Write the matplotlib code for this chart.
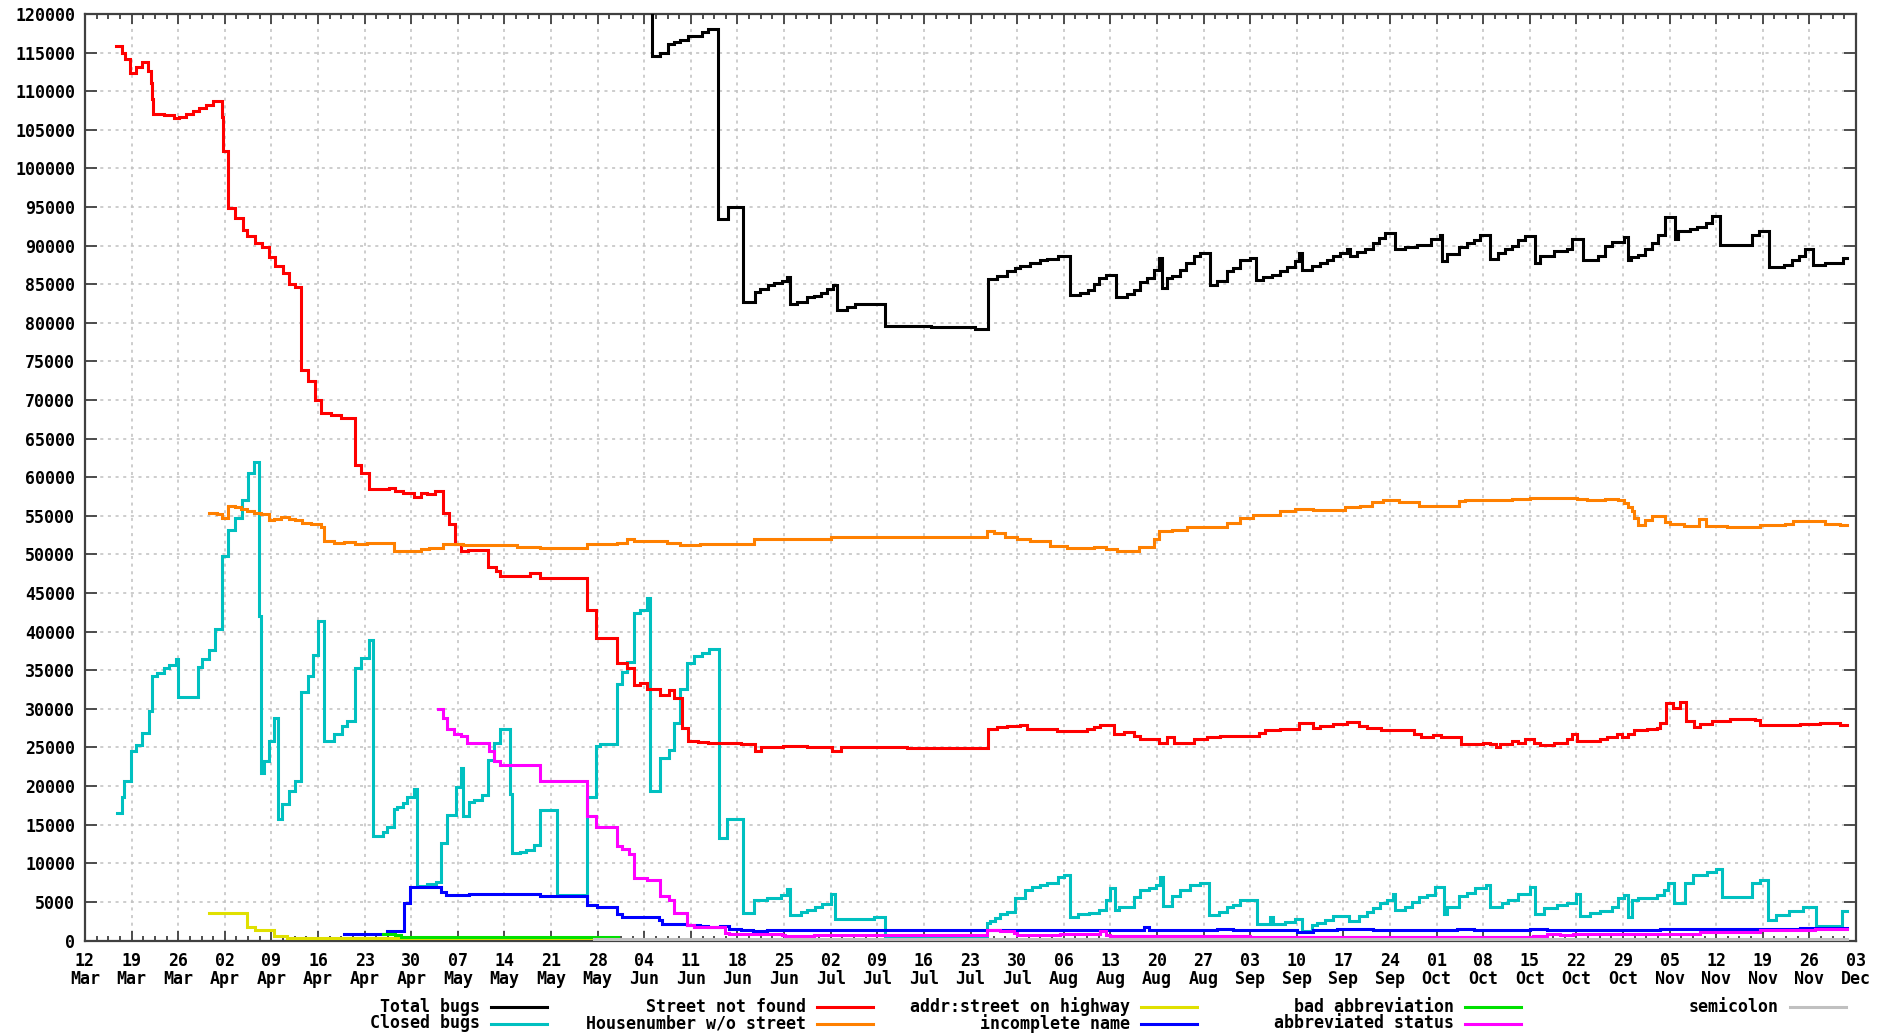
import numpy as np
import matplotlib
matplotlib.use("Agg")
import matplotlib.pyplot as plt
import matplotlib.dates as mdates
from matplotlib.lines import Line2D
from datetime import datetime

# ---------------- data (x = days since 12 Mar, values = bug counts) ----------------
start_date = datetime(2012, 3, 12)
end_day = 264.7

total_day = [84.8, 85.1, 86.4, 87.6, 88.4, 89.4, 90.5, 92.6, 93.6, 95.1, 96.6, 98.9, 100.6, 101.4, 102.6,
             103.5, 104.7, 105.5, 105.9, 107.0, 108.5, 109.5, 110.5, 111.5, 112.3, 112.9, 114.5, 115.7,
             120.1, 127.0, 133.7, 135.6, 137.0, 138.5, 139.7, 140.5, 142.0, 143.5, 144.5, 146.2, 147.9,
             149.5, 150.7, 151.5, 152.3, 153.3, 154.8, 156.5, 157.5, 158.5, 159.5, 160.5, 161.3, 161.8,
             162.5, 163.3, 164.5, 165.4, 166.5, 167.5, 168.9, 170.0, 171.5, 172.5, 173.5, 175.0, 175.9,
             177.0, 178.3, 179.5, 180.5, 181.8, 182.4, 182.8, 184.3, 185.5, 186.5, 187.5, 188.5, 189.5,
             190.0, 191.0, 192.3, 193.5, 194.4, 195.3, 196.8, 198.3, 200.1, 202.1, 203.5, 203.8, 204.6,
             206.3, 207.5, 208.6, 209.5, 211.0, 212.3, 213.3, 214.3, 215.3, 216.3, 217.8, 218.5, 220.6,
             222.6, 223.3, 225.0, 227.3, 228.3, 229.3, 231.1, 231.8, 232.2, 233.3, 234.3, 235.3, 236.3,
             237.3, 238.8, 239.3, 241.1, 242.1, 243.4, 244.4, 245.6, 250.4, 251.4, 252.9, 255.2, 256.4,
             257.4, 258.4, 259.6, 261.4, 264.1]
total_val = [130000, 114600, 115000, 116100, 116400, 116600, 117100, 117700, 118100, 93500, 95000, 82700,
             84000, 84400, 84900, 85200, 85400, 85900, 82500, 82700, 83300, 83500, 83800, 84400, 84900,
             81600, 82100, 82400, 79600, 79400, 79200, 85700, 86100, 86700, 87100, 87400, 87700, 88100,
             88300, 88700, 83600, 83800, 84200, 85000, 85800, 86200, 83400, 83700, 84300, 85300, 85800,
             86800, 88400, 84500, 85800, 86100, 86900, 87700, 88600, 89000, 84900, 85400, 86700, 87100,
             88100, 88400, 85600, 85900, 86200, 86700, 87200, 88000, 89000, 86900, 87300, 87800, 88200,
             88600, 89000, 89500, 88600, 89200, 89600, 90400, 91000, 91600, 89500, 89800, 90100, 90900,
             91400, 88000, 88900, 89800, 90400, 90700, 91400, 88300, 89100, 89500, 90000, 90700, 91200,
             87800, 88600, 89300, 89600, 90900, 88200, 88600, 89900, 90500, 91100, 88200, 88500, 88800,
             89500, 90300, 91400, 93700, 90800, 91900, 92100, 92400, 92900, 93800, 90100, 91400, 91900,
             87200, 87500, 88100, 88700, 89500, 87500, 87700, 88400]

closed_day = [4.8, 5.6, 5.9, 6.9, 7.6, 8.6, 9.6, 10.0, 10.8, 11.8, 12.6, 13.6, 14.0, 16.9, 17.6, 18.6,
              19.6, 20.6, 21.5, 22.6, 23.6, 24.5, 25.4, 26.1, 26.4, 26.9, 27.6, 28.4, 29.0, 29.6, 30.6,
              31.6, 32.5, 33.5, 34.2, 35.0, 35.9, 37.4, 38.6, 39.4, 40.6, 41.5, 42.6, 43.2, 44.7, 45.4,
              46.4, 46.8, 47.7, 48.4, 49.4, 49.9, 51.4, 52.7, 53.5, 54.4, 55.7, 56.4, 56.8, 57.7, 58.4,
              59.7, 60.5, 61.5, 62.4, 63.9, 64.2, 65.4, 66.2, 67.4, 68.4, 70.9, 75.4, 76.7, 77.4, 79.9,
              80.7, 81.4, 82.4, 83.4, 84.4, 84.9, 86.4, 87.7, 88.5, 89.4, 90.4, 91.4, 92.7, 93.7, 95.2,
              96.5, 98.9, 100.5, 102.5, 104.5, 105.5, 105.9, 107.5, 108.5, 109.7, 110.7, 112.0, 112.7,
              118.5, 120.1, 135.5, 136.0, 136.7, 137.5, 138.5, 139.7, 141.2, 142.3, 143.5, 144.5, 146.2,
              147.0, 147.9, 149.2, 150.8, 152.3, 153.4, 154.0, 154.7, 155.3, 157.5, 158.5, 159.8, 160.8,
              161.5, 161.9, 163.3, 164.5, 166.0, 167.5, 168.8, 170.3, 171.5, 172.5, 173.5, 176.1, 178.0,
              178.5, 180.3, 181.8, 182.8, 184.3, 185.0, 186.3, 187.5, 189.8, 191.3, 192.6, 193.5, 194.5,
              195.6, 196.5, 196.8, 198.3, 199.3, 200.3, 201.6, 202.8, 204.1, 204.5, 206.3, 207.6, 208.8,
              210.5, 211.1, 212.8, 213.8, 215.3, 217.1, 217.8, 219.1, 221.1, 222.6, 223.9, 224.5, 226.0,
              227.6, 229.3, 230.3, 231.1, 231.7, 232.3, 233.3, 236.1, 237.1, 237.8, 238.6, 240.3, 241.5,
              243.6, 245.0, 245.9, 250.4, 251.6, 252.8, 254.0, 256.0, 258.0, 260.0, 263.9]
closed_val = [16500, 18600, 20600, 24500, 25300, 26900, 29700, 34200, 34700, 35300, 35700, 36400, 31600,
              35400, 36400, 37600, 40300, 49800, 53200, 54700, 57000, 60500, 62000, 42000, 21700, 23200,
              25900, 28800, 15800, 17700, 19400, 20700, 32200, 34200, 37000, 41400, 25800, 26800, 27800,
              28400, 35300, 36600, 38900, 13500, 14000, 14700, 17000, 17300, 17800, 18600, 19600, 7000,
              7300, 7600, 12600, 16200, 19900, 22300, 16100, 17900, 18200, 18900, 23400, 25600, 27400,
              19000, 11300, 11500, 11700, 12400, 16900, 5900, 18600, 25200, 25400, 33200, 34800, 36100,
              42400, 42800, 44300, 19300, 23600, 24700, 28200, 32600, 36000, 36800, 37200, 37700, 13300,
              15800, 3600, 5200, 5500, 5900, 6700, 3300, 3700, 4000, 4400, 4700, 6000, 2800, 3100, 600,
              2300, 2500, 2900, 3400, 3700, 5500, 6500, 6900, 7200, 7500, 8200, 8500, 3100, 3400, 3600,
              4000, 5300, 6800, 3900, 4300, 5600, 6500, 6800, 7200, 8200, 4500, 5700, 6600, 7200, 7400,
              3300, 3700, 4300, 4600, 5200, 2100, 3100, 2200, 2400, 2800, 1200, 2000, 2300, 2700, 3200,
              2500, 3200, 3700, 4200, 4800, 5300, 6000, 4000, 4400, 5000, 5600, 5900, 6900, 3400, 4400,
              5700, 6200, 6800, 7200, 4400, 4800, 5200, 6000, 6900, 3400, 4200, 4600, 4800, 6000, 3200,
              3600, 3800, 4400, 5500, 5900, 3100, 5200, 5500, 5900, 6600, 7400, 4800, 7400, 8500, 8900,
              9300, 5600, 7500, 7900, 2700, 3300, 3800, 4300, 1900, 3800]

street_day = [4.6, 5.6, 6.0, 6.8, 7.6, 8.6, 9.5, 9.9, 10.1, 10.2, 11.9, 13.4, 14.1, 15.1, 16.2, 17.1,
              18.1, 19.3, 20.6, 20.8, 21.5, 22.5, 23.7, 24.4, 25.6, 26.6, 27.7, 28.6, 29.7, 30.6, 31.6,
              32.5, 33.5, 34.6, 35.5, 36.9, 38.5, 40.6, 41.5, 42.6, 45.6, 46.6, 47.7, 49.4, 50.4, 51.4,
              52.5, 53.7, 54.6, 55.6, 56.4, 57.6, 60.5, 61.7, 62.4, 66.9, 68.4, 75.4, 76.7, 79.9, 81.4,
              82.4, 83.4, 84.4, 86.4, 87.7, 88.4, 89.6, 90.5, 92.0, 93.5, 98.5, 100.7, 101.5, 104.9,
              108.5, 112.2, 113.5, 123.5, 135.7, 137.0, 138.5, 140.5, 141.5, 146.0, 150.5, 151.5, 152.5,
              154.5, 156.0, 157.5, 158.5, 161.3, 162.5, 163.5, 166.5, 168.5, 170.5, 176.3, 177.3, 179.5,
              182.4, 184.5, 185.5, 187.5, 189.6, 191.4, 192.6, 194.6, 196.3, 199.6, 200.6, 202.5, 203.6,
              206.6, 210.0, 211.0, 212.0, 212.6, 214.3, 215.3, 216.3, 217.6, 218.6, 220.6, 222.6, 223.3,
              224.1, 227.6, 228.6, 230.1, 230.8, 231.8, 232.6, 234.6, 236.1, 236.6, 237.5, 238.5, 239.6,
              240.5, 241.6, 242.6, 244.4, 247.0, 250.9, 251.6, 257.6, 260.6, 263.6]
street_val = [115900, 115000, 114200, 112400, 113200, 113800, 112600, 111000, 109000, 107000, 106900,
              106500, 106700, 107000, 107400, 107800, 108200, 108700, 106600, 102200, 94900, 93600,
              92000, 91300, 90400, 89800, 88500, 87400, 86400, 85000, 84600, 73900, 72500, 70000, 68300,
              68100, 67700, 61600, 60500, 58500, 58600, 58200, 58000, 57500, 58000, 57800, 58200, 55400,
              54000, 51300, 50500, 50600, 48400, 47800, 47200, 47600, 46900, 42800, 39200, 35900, 35300,
              33100, 33400, 32600, 31800, 32400, 31400, 27500, 25900, 25700, 25600, 25400, 24600, 25100,
              25200, 25100, 24600, 25000, 24900, 27400, 27600, 27800, 27900, 27400, 27100, 27400, 27700,
              27900, 26700, 27000, 26500, 26100, 25600, 26400, 25600, 26100, 26300, 26500, 26900, 27200,
              27400, 28200, 27500, 27800, 28000, 28300, 27800, 27500, 27300, 27200, 26800, 26400, 26600,
              26300, 25400, 25600, 25400, 25000, 25400, 25900, 25600, 26100, 25600, 25300, 25600, 26100,
              26800, 25800, 26100, 26400, 26800, 26300, 26800, 27200, 27400, 27500, 28200, 30700, 30100,
              30900, 28400, 27600, 28000, 28400, 28700, 28500, 27900, 28000, 28200, 27900]

house_day = [18.6, 19.9, 20.6, 21.5, 22.5, 23.4, 24.4, 25.4, 26.4, 27.6, 28.4, 29.4, 30.6, 31.6, 32.6,
             33.9, 35.4, 35.9, 37.4, 38.9, 40.6, 42.4, 46.4, 49.4, 50.4, 51.7, 53.7, 56.7, 64.9, 68.4,
             75.4, 79.9, 81.4, 82.4, 87.4, 89.4, 92.4, 100.5, 112.1, 135.5, 136.6, 138.2, 140.0, 142.0,
             145.0, 147.5, 151.5, 153.3, 155.0, 158.3, 160.5, 161.3, 163.3, 165.5, 166.5, 171.5, 173.5,
             175.5, 179.5, 181.8, 184.5, 189.3, 191.5, 193.3, 195.0, 197.3, 200.3, 206.3, 207.3, 214.3,
             217.1, 224.1, 225.6, 228.3, 230.3, 231.1, 231.8, 232.3, 232.6, 233.3, 234.3, 235.3, 237.3,
             238.1, 240.1, 242.4, 243.4, 246.6, 251.6, 255.4, 256.6, 261.4, 263.6]
house_val = [55400, 55200, 54700, 56300, 56100, 55900, 55600, 55400, 55200, 54500, 54600, 54800, 54600,
             54400, 54100, 53900, 53500, 51800, 51500, 51600, 51300, 51500, 50400, 50500, 50700, 50900,
             51300, 51200, 51000, 50800, 51300, 51500, 52000, 51800, 51500, 51200, 51400, 52000, 52200,
             53000, 52800, 52300, 52000, 51700, 51100, 50900, 51000, 50700, 50400, 51000, 52000, 53000,
             53200, 53500, 53600, 54100, 54700, 55100, 55600, 55900, 55800, 56100, 56300, 56800, 57000,
             56800, 56300, 56900, 57000, 57200, 57300, 57200, 57000, 57200, 57000, 56700, 56100, 55600,
             54700, 53800, 54500, 55000, 54200, 53900, 53700, 54600, 53700, 53600, 53800, 54000, 54300,
             54000, 53800]

highway_day = [18.6, 22.4, 24.4, 25.6, 28.4, 30.4]
highway_val = [3600, 3500, 1800, 1400, 600, 350]
highway_end = 80.0

incomplete_day = [38.9, 45.4, 47.9, 48.8, 53.4, 54.2, 57.7, 68.4, 75.4, 76.9, 79.9, 80.7, 86.2, 86.7,
                  90.4, 92.4, 93.5, 95.4, 96.7, 98.5, 100.4, 102.5, 104.7, 135.5, 139.5, 149.5, 159.0,
                  159.8, 165.5, 170.0, 172.5, 182.0, 184.5, 188.0, 193.5, 196.0, 206.1, 208.6, 217.1,
                  219.6, 224.1, 236.6, 251.6, 257.6]
incomplete_val = [900, 1200, 4900, 6900, 6300, 5900, 6000, 5700, 4600, 4400, 3400, 3100, 2600, 2200,
                  2000, 1900, 1700, 1900, 1500, 1400, 1200, 1400, 1300, 1400, 1300, 1400, 1700, 1300,
                  1400, 1450, 1350, 1150, 1350, 1450, 1350, 1300, 1450, 1300, 1450, 1350, 1300, 1450,
                  1500, 1600]

badabbr_day = [44.7, 46.5, 47.4]
badabbr_val = [800, 700, 450]
badabbr_end = 80.0

abbrstat_day = [53.0, 53.7, 54.4, 55.4, 56.4, 57.4, 60.7, 61.4, 62.4, 68.4, 75.4, 76.7, 79.9, 80.7, 81.7,
                82.4, 84.4, 86.4, 87.7, 88.5, 90.4, 91.4, 96.2, 96.7, 104.7, 105.2, 109.5, 135.5, 137.5,
                139.5, 140.0, 146.5, 152.5, 153.3, 154.0, 175.0, 217.5, 219.6, 221.6, 223.5, 228.6,
                242.6, 251.6, 259.9]
abbrstat_val = [30000, 28800, 27400, 26800, 26500, 25600, 24500, 23200, 22700, 20700, 16100, 14700,
                12200, 11800, 11200, 8100, 7800, 5700, 5300, 3500, 2000, 1700, 1000, 850, 700, 600, 700,
                1400, 1200, 1000, 700, 850, 1200, 700, 600, 500, 600, 800, 700, 850, 900, 1100, 1300, 1500]

semicolon_day = [76.4]
semicolon_val = [180]

series = [
    ("Total bugs", total_day, total_val, "#000000"),
    ("Closed bugs", closed_day, closed_val, "#00c0c0"),
    ("Street not found", street_day, street_val, "#ff0000"),
    ("Housenumber w/o street", house_day, house_val, "#ff8000"),
    ("addr:street on highway", highway_day + [highway_end], highway_val + [highway_val[-1]], "#e0e000"),
    ("incomplete name", incomplete_day, incomplete_val, "#0000ff"),
    ("bad abbreviation", badabbr_day + [badabbr_end], badabbr_val + [badabbr_val[-1]], "#00e000"),
    ("abbreviated status", abbrstat_day, abbrstat_val, "#ff00ff"),
    ("semicolon", semicolon_day, semicolon_val, "#c0c0c0"),
]

y_ticks = list(range(0, 120001, 5000))

# ---------------- figure ----------------
W, H = 1888, 1036
fig = plt.figure(figsize=(W / 100, H / 100), dpi=100)
plt.rcParams['font.family'] = ['DejaVu Sans Mono']
plt.rcParams['font.weight'] = 'bold'

left, right, top, bottom = 85, 1856, 14, 940.5
ax = fig.add_axes([left / W, 1 - bottom / H, (right - left) / W, (bottom - top) / H])

base = mdates.date2num(start_date)
lw = 2.2
for name, d, v, c in series:
    d = list(d)
    v = list(v)
    if d[-1] < end_day and name not in ("addr:street on highway", "bad abbreviation"):
        d = d + [end_day]
        v = v + [v[-1]]
    x = base + np.array(d)
    ax.step(x, v, where='post', color=c, lw=lw, solid_joinstyle='miter', zorder=3)

ax.set_xlim(base, base + 266)
ax.set_ylim(0, 120000)

major = base + np.arange(0, 267, 7)
minor = base + np.arange(0, 266.01, 1.75)
ax.set_xticks(major)
ax.set_xticks(minor, minor=True)
ax.xaxis.set_major_formatter(mdates.DateFormatter('%d\n%b'))
ax.set_yticks(y_ticks)
ax.set_yticklabels([str(t) for t in y_ticks])

axis_col = '#404040'
for s in ax.spines.values():
    s.set_color(axis_col)
    s.set_linewidth(1.6)

ax.tick_params(axis='x', which='major', direction='in', length=7.5, width=1.3, color=axis_col,
               top=True, bottom=True, pad=8, labelsize=12)
ax.tick_params(axis='x', which='minor', direction='in', length=3.8, width=1.3, color=axis_col,
               top=True, bottom=True)
ax.tick_params(axis='y', which='major', direction='in', length=8.9, width=1.3, color=axis_col,
               left=True, right=True, pad=7, labelsize=12)

for lbl in ax.get_xticklabels():
    lbl.set_linespacing(1.0)
    lbl.set_fontweight('bold')
for lbl in ax.get_yticklabels():
    lbl.set_fontweight('bold')

ax.grid(True, which='major', color='#c0c0c0', linestyle=(0, (2, 3)), linewidth=1.1)
ax.set_axisbelow(True)

# ---------------- legend (gnuplot style, below plot) ----------------
col_ends = [480, 806, 1130, 1454, 1779]
row_y = [1006.5, 1023.5]
order = [[0, 1], [2, 3], [4, 5], [6, 7], [8]]
for ci, idxs in enumerate(order):
    for ri, si in enumerate(idxs):
        name, _, _, c = series[si]
        y = 1 - row_y[ri] / H
        fig.text(col_ends[ci] / W, y, name, ha='right', va='center', fontsize=12,
                 fontweight='bold', color='black')
        x0 = (col_ends[ci] + 11) / W
        x1 = (col_ends[ci] + 67) / W
        fig.add_artist(Line2D([x0, x1], [y, y], transform=fig.transFigure, color=c, lw=lw))

fig.savefig("out.png", dpi=100)
